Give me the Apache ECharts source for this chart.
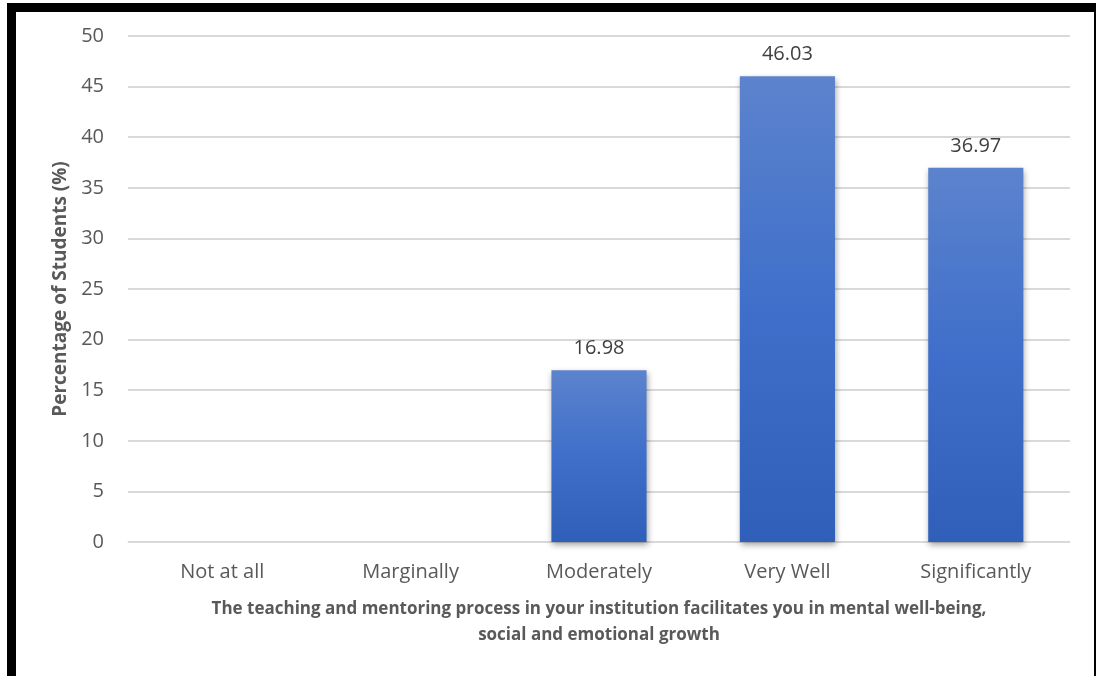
<!DOCTYPE html>
<html>
<head>
<meta charset="utf-8">
<script src="https://cdn.jsdelivr.net/npm/echarts@6/dist/echarts.min.js"></script>
<style>
  html, body { margin: 0; padding: 0; background: #fff; }
  #wrap { position: relative; width: 1097px; height: 676px; }
  #chart { position: absolute; left: 0; top: 0; width: 1097px; height: 676px; }
  .frame {
    position: absolute; left: 7px; top: 3px; width: 1078px; height: 700px;
    border-left: 9px solid #000; border-top: 9px solid #000; border-right: 2px solid #000;
    pointer-events: none;
  }
</style>
</head>
<body>
<div id="wrap">
  <div id="chart"></div>
  <div class="frame"></div>
</div>
<script>
// 类别与数值
const categories = ["Not at all", "Marginally", "Moderately", "Very Well", "Significantly"];
const percentages = [0, 0, 16.98, 46.03, 36.97];
const yTicks = [0, 5, 10, 15, 20, 25, 30, 35, 40, 45, 50];

let myChart = echarts.init(document.getElementById("chart"));
myChart.setOption({
  animation: false,
  textStyle: { fontFamily: "Open Sans" },
  grid: { left: 128, right: 27, top: 36, bottom: 134 },
  xAxis: {
    type: "category",
    data: categories,
    name: "The teaching and mentoring process in your institution facilitates you in mental well-being,\nsocial and emotional growth",
    nameLocation: "middle",
    nameGap: 54,
    nameTextStyle: { fontSize: 17, fontWeight: "bold", color: "#595959", lineHeight: 26 },
    axisLine: { show: true, lineStyle: { color: "#d9d9d9", width: 1 } },
    axisTick: { show: false },
    axisLabel: { fontSize: 20, color: "#595959", margin: 20 }
  },
  yAxis: {
    type: "value",
    min: yTicks[0],
    max: yTicks[yTicks.length - 1],
    interval: 5,
    name: "Percentage of Students (%)",
    nameLocation: "middle",
    nameGap: 58,
    nameTextStyle: { fontSize: 19, fontWeight: "bold", color: "#595959" },
    axisLine: { show: false },
    axisTick: { show: false },
    splitLine: { lineStyle: { color: "#d9d9d9", width: 2 } },
    axisLabel: { fontSize: 20, color: "#595959", margin: 24 }
  },
  series: [{
    type: "bar",
    data: percentages.map(v => v === 0 ? null : v),
    barWidth: "50.5%",
    itemStyle: {
      color: new echarts.graphic.LinearGradient(0, 0, 0, 1, [
        { offset: 0, color: "#5c83cd" },
        { offset: 0.5, color: "#3f6fca" },
        { offset: 1, color: "#2f5fb8" }
      ]),
      shadowColor: "rgba(0,0,0,0.35)",
      shadowBlur: 6,
      shadowOffsetX: 1,
      shadowOffsetY: 3
    },
    label: {
      show: true,
      position: "top",
      distance: 12,
      fontSize: 20,
      color: "#404040",
      formatter: p => p.value.toFixed(2)
    }
  }]
});
</script>
</body>
</html>
